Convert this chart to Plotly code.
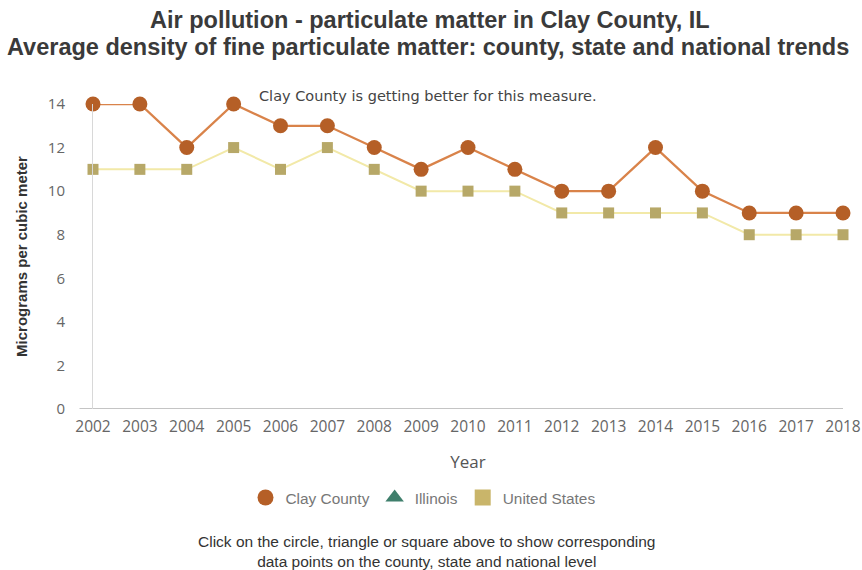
import plotly.graph_objects as go

years = list(range(2002, 2019))
clay_county = [14, 14, 12, 14, 13, 13, 12, 11, 12, 11, 10, 10, 12, 10, 9, 9, 9]
united_states = [11, 11, 11, 12, 11, 12, 11, 10, 10, 10, 9, 9, 9, 9, 8, 8, 8]
y_ticks = [0, 2, 4, 6, 8, 10, 12, 14]

title_lines = ["Air pollution - particulate matter in Clay County, IL",
               "Average density of fine particulate matter: county, state and national trends"]
note_text = "Clay County is getting better for this measure."
footer_text = ("Click on the circle, triangle or square above to show corresponding<br>"
               "data points on the county, state and national level")

CLAY_LINE, CLAY_MARK = "#d9834a", "#b55f27"
US_LINE, US_MARK = "#f2e9a8", "#b7a868"
IL_MARK = "#3f7f6c"

SANS = "Liberation Sans, Arial, sans-serif"
WIDE = "DejaVu Sans, Verdana, sans-serif"
TICK = "Open Sans, sans-serif"

fig = go.Figure()

# data series
fig.add_trace(go.Scatter(
    x=years, y=united_states, name="United States", mode="lines+markers",
    line=dict(color=US_LINE, width=2),
    marker=dict(symbol="square", size=11, color=US_MARK),
    cliponaxis=False, showlegend=False,
))
fig.add_trace(go.Scatter(
    x=years, y=clay_county, name="Clay County", mode="lines+markers",
    line=dict(color=CLAY_LINE, width=2.3),
    marker=dict(symbol="circle", size=15, color=CLAY_MARK),
    cliponaxis=False, showlegend=False,
))

# legend entries (symbol only)
for name, sym, col, sz in [("Clay County", "circle", CLAY_MARK, 22),
                           ("Illinois", "triangle-up", IL_MARK, 20),
                           ("United States", "square", "#c9b56a", 16)]:
    fig.add_trace(go.Scatter(
        x=[None], y=[None], name=name, mode="markers",
        marker=dict(symbol=sym, size=sz, color=col),
    ))

title_font = dict(family=SANS, size=23.5, color="#3a3a3a", weight="bold")
annotations = [
    dict(text=title_lines[0], xref="paper", yref="paper", x=0.449, y=(409 - 20) / 305,
         xanchor="center", yanchor="middle", showarrow=False, font=title_font),
    dict(text=title_lines[1], xref="paper", yref="paper", x=0.447, y=(409 - 47) / 305,
         xanchor="center", yanchor="middle", showarrow=False, font=title_font),
    dict(text=note_text, xref="paper", yref="paper", x=0.446, y=(409 - 96) / 305,
         xanchor="center", yanchor="middle", showarrow=False,
         font=dict(family=WIDE, size=14.5, color="#444")),
    dict(text=footer_text, xref="paper", yref="paper", x=0.445, y=(409 - 551) / 305,
         xanchor="center", yanchor="middle", showarrow=False,
         font=dict(family=SANS, size=15.5, color="#333")),
]

fig.update_layout(
    width=862, height=570,
    margin=dict(l=93, r=19, t=104, b=161),
    paper_bgcolor="white", plot_bgcolor="white",
    font=dict(family=SANS, color="#555"),
    showlegend=True,
    legend=dict(orientation="h", x=0.44, xanchor="center", y=(409 - 498) / 305, yanchor="middle",
                font=dict(family=SANS, size=15.4, color="#777"),
                traceorder="normal", itemsizing="trace", itemwidth=30),
    xaxis=dict(
        range=[2002, 2018], tickmode="array", tickvals=years,
        ticktext=[str(y) for y in years], showgrid=False, zeroline=False,
        showline=False, ticks="", ticklabelstandoff=6, automargin=False,
        tickfont=dict(family=TICK, size=15.5, color="#666"),
        title=dict(text="Year", font=dict(family=TICK, size=17, color="#555"), standoff=20),
    ),
    yaxis=dict(
        range=[0, 14], tickvals=y_ticks, showgrid=False, zeroline=False,
        showline=True, linecolor="#d8d8d8", linewidth=1, ticks="",
        ticklabelstandoff=24, automargin=False,
        tickfont=dict(family=TICK, size=15, color="#666"),
        title=dict(text="Micrograms per cubic meter",
                   font=dict(family=SANS, size=15, color="#333", weight="bold"),
                   standoff=16),
    ),
    annotations=annotations,
    shapes=[
        dict(type="line", xref="paper", yref="y", x0=-0.018, x1=1.0, y0=0, y1=0,
             line=dict(color="#b0b0b0", width=1.5), layer="below"),
    ],
)

fig.write_html("out.html")
